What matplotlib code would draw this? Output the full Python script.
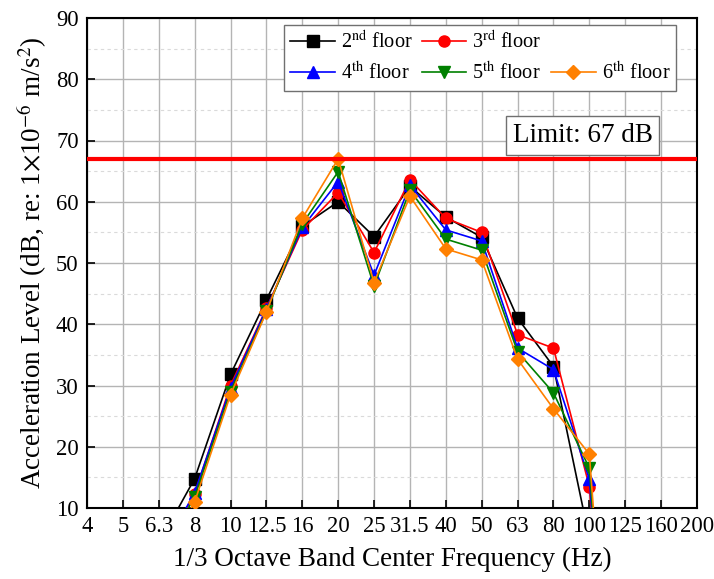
import matplotlib
matplotlib.use("Agg")
import matplotlib.pyplot as plt
from matplotlib.lines import Line2D
from matplotlib.ticker import MultipleLocator

plt.rcParams['font.family'] = ['Liberation Serif', 'DejaVu Serif']
plt.rcParams['mathtext.fontset'] = 'stix'

# 1/3 octave band centre frequencies (Hz)
bands = ['4', '5', '6.3', '8', '10', '12.5', '16', '20', '25', '31.5',
         '40', '50', '63', '80', '100', '125', '160', '200']

# Acceleration levels per floor (dB), bands 6.3 Hz ... 125 Hz
floor2 = [4.2, 14.8, 31.8, 44.0, 56.0, 60.0, 54.3, 62.5, 57.5, 54.2, 41.0, 33.1, 5.0, -60.0]
floor3 = [1.7, 12.3, 30.0, 42.6, 55.4, 61.5, 51.7, 63.6, 57.3, 55.0, 38.3, 36.1, 13.5, -60.0]
floor4 = [2.0, 12.5, 29.6, 42.5, 55.8, 63.3, 48.0, 62.7, 55.4, 53.6, 36.1, 32.6, 14.7, -60.0]
floor5 = [1.5, 11.8, 29.0, 42.1, 56.4, 64.9, 46.2, 61.9, 53.9, 52.1, 35.5, 28.8, 16.5, -60.0]
floor6 = [0.5, 11.0, 28.5, 42.0, 57.3, 67.0, 46.8, 60.9, 52.3, 50.5, 34.3, 26.2, 18.8, -60.0]
first_band = 2  # index of 6.3 Hz

limit_db = 67

series = [
    (floor2, 'black', 's', r'2$^{\mathrm{nd}}$ floor'),
    (floor3, '#FF0000', 'o', r'3$^{\mathrm{rd}}$ floor'),
    (floor4, '#0000FF', '^', r'4$^{\mathrm{th}}$ floor'),
    (floor5, '#008000', 'v', r'5$^{\mathrm{th}}$ floor'),
    (floor6, '#FF8000', 'D', r'6$^{\mathrm{th}}$ floor'),
]

fig = plt.figure(figsize=(7.14, 5.79), dpi=100)
ax = fig.add_axes([87 / 714, 1 - 508 / 579, 610 / 714, 490 / 579])

handles = {}
for vals, color, marker, label in series:
    x = list(range(first_band, first_band + len(vals)))
    ms = 8 if marker != 'D' else 7.5
    h, = ax.plot(x, vals, color=color, marker=marker, markersize=ms,
                 linewidth=1.2, label=label, zorder=3)
    handles[label] = h

ax.axhline(limit_db, color='#FF0000', linewidth=3, zorder=4)

ax.set_xlim(0, len(bands) - 1)
ax.set_ylim(10, 90)
ax.set_xticks(range(len(bands)))
ax.set_xticklabels(bands)
ax.yaxis.set_major_locator(MultipleLocator(10))
ax.yaxis.set_minor_locator(MultipleLocator(5))

ax.grid(True, which='major', color='#b4b4b4', linewidth=1.0, zorder=0)
ax.grid(True, which='minor', axis='y', color='#dadada', linewidth=0.8,
        linestyle=(0, (3, 3)), zorder=0)
ax.set_axisbelow(True)

ax.tick_params(axis='both', which='major', direction='in', length=6, width=1.2,
               labelsize=16.3, pad=6)
ax.tick_params(axis='y', which='minor', left=False)
for s in ax.spines.values():
    s.set_linewidth(1.5)

ax.set_xlabel('1/3 Octave Band Center Frequency (Hz)', fontsize=19.5, labelpad=7)
ax.set_ylabel(r'Acceleration Level (dB, re: 1$\times$10$^{-6}$ m/s$^{2}$)',
              fontsize=19.5, labelpad=5)

ax.text(0.8125, 0.76, 'Limit: %d dB' % limit_db, transform=ax.transAxes,
        ha='center', va='center', fontsize=19.5, zorder=5,
        bbox=dict(boxstyle='square,pad=0.25', facecolor='white',
                  edgecolor='#707070', linewidth=1.0))

blank = Line2D([], [], linestyle='none', marker=None)
labels = [s[3] for s in series]
order_h = [handles[labels[0]], handles[labels[2]], handles[labels[1]],
           handles[labels[3]], blank, handles[labels[4]]]
order_l = [labels[0], labels[2], labels[1], labels[3], '', labels[4]]
leg = ax.legend(order_h, order_l, ncol=3, loc='upper right',
                bbox_to_anchor=(0.966, 0.986), borderaxespad=0,
                fontsize=14.6, frameon=True, fancybox=False, framealpha=1,
                edgecolor='#707070', handlelength=2.2, handletextpad=0.3,
                columnspacing=0.45, labelspacing=0.45, borderpad=0.3)
leg.get_frame().set_linewidth(1.0)
leg.set_zorder(6)

fig.savefig('out.png', dpi=100)
